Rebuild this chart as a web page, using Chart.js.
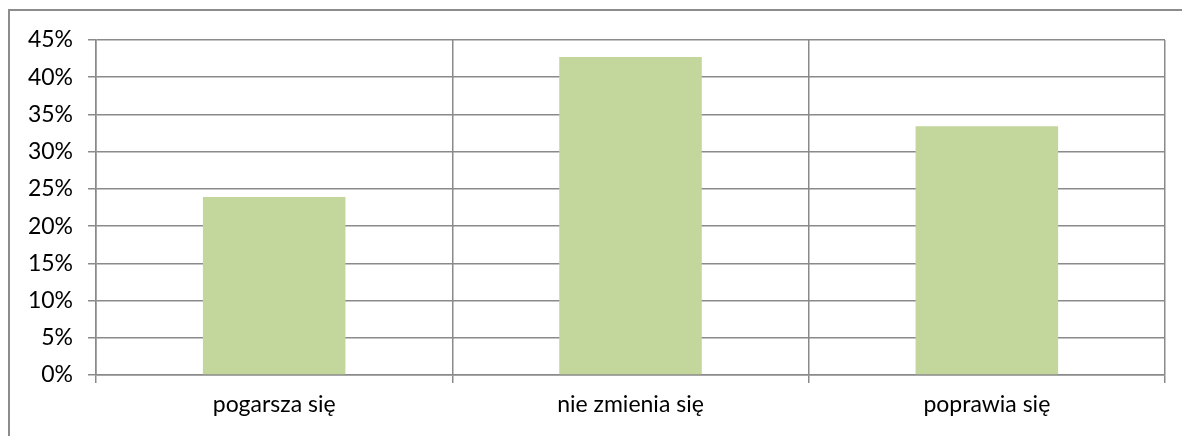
<!DOCTYPE html>
<html>
<head>
<meta charset="utf-8">
<script src="https://cdn.jsdelivr.net/npm/chart.js@4"></script>
<style>
  html, body { margin: 0; padding: 0; background: #fff; }
  #wrap { position: relative; width: 1182px; height: 436px; }
  #frame { position: absolute; left: 8px; top: 9px; right: 0; bottom: 0; border-left: 2px solid #8c8c8c; border-top: 2px solid #8c8c8c; }
  canvas { position: absolute; left: 0; top: 0; }
</style>
</head>
<body>
<div id="wrap">
  <div id="frame"></div>
  <canvas id="mainChart" width="1182" height="436"></canvas>
</div>
<script>
const categories = ['pogarsza się', 'nie zmienia się', 'poprawia się'];
const values = [23.9, 42.7, 33.4];
const yTicks = [0, 5, 10, 15, 20, 25, 30, 35, 40, 45];

const gridColor = '#8a8a8a';
const family = 'Lato, "Open Sans", sans-serif';

new Chart(document.getElementById('mainChart').getContext('2d'), {
    type: 'bar',
    data: {
        labels: categories,
        datasets: [{
            data: values,
            backgroundColor: '#c3d69b',
            borderWidth: 0,
            barPercentage: 0.4,
            categoryPercentage: 1
        }]
    },
    options: {
        responsive: false,
        animation: false,
        layout: { padding: { left: 0, right: 17, top: 40, bottom: 0 } },
        plugins: { legend: { display: false }, tooltip: { enabled: false } },
        scales: {
            x: {
                grid: { offset: true, color: gridColor, lineWidth: 1.5, tickLength: 8 },
                border: { color: gridColor, width: 1.5 },
                ticks: { color: '#000', font: { family: family, size: 23 }, padding: 8, maxRotation: 0 },
                afterFit: s => { s.height = 61; }
            },
            y: {
                min: 0,
                max: 45,
                afterBuildTicks: s => { s.ticks = yTicks.map(v => ({ value: v })); },
                grid: { color: gridColor, lineWidth: 1.5, tickLength: 8 },
                border: { color: gridColor, width: 1.5 },
                ticks: { color: '#000', font: { family: family, size: 23 }, padding: 15, callback: v => v + '%' },
                afterFit: s => { s.width = 96; }
            }
        }
    }
});
</script>
</body>
</html>
